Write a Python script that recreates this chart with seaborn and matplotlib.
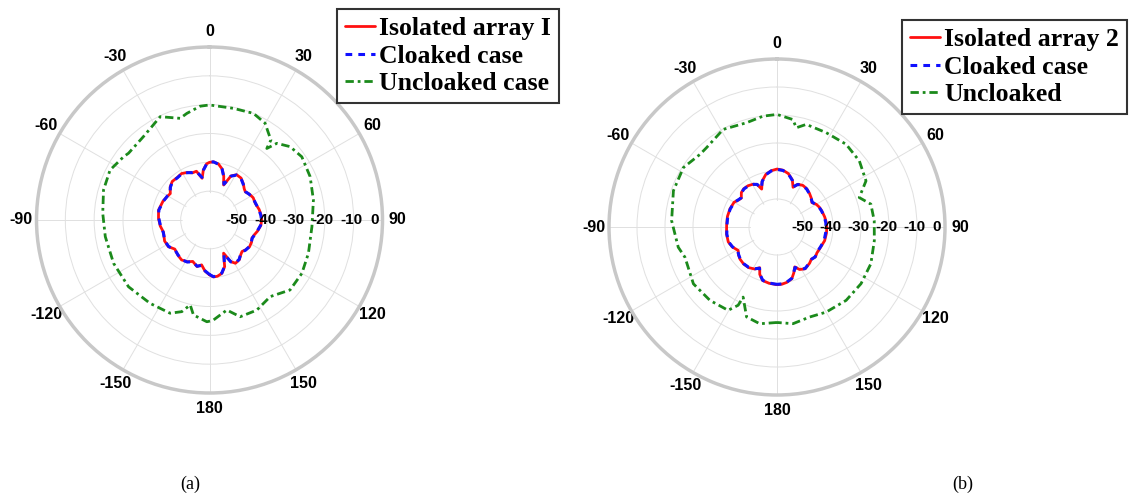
import numpy as np
import pandas as pd
import matplotlib
matplotlib.use("Agg")
import matplotlib.pyplot as plt
import seaborn as sns

# ---------------- data (angles in degrees, gain in dB) ----------------
THETA_TICKS = [0, 30, 60, 90, 120, 150, 180, 210, 240, 270, 300, 330]
THETA_LABELS = ["0", "30", "60", "90", "120", "150", "180",
                "-150", "-120", "-90", "-60", "-30"]
R_TICKS = [-50, -40, -30, -20, -10, 0]
R_LABELS = ["-50", "-40", "-30", "-20", "-10", "0"]

# (a) isolated array I
ang_a_iso = [-180, -175, -170, -165, -158, -152, -145, -138, -130, -123, -115, -105,
             -97, -88, -79, -68, -60, -56, -50, -44, -37, -31, -25, -20, -15, -10,
             -7, -3, 0, 4, 9, 14, 18, 22, 26, 31, 37, 43, 48, 52, 57, 63, 70, 78,
             85, 90, 96, 103, 108, 113, 118, 124, 130, 134, 138, 143, 149, 153,
             157, 162, 167, 172, 176, 180]
db_a_iso = [-41.0, -42.2, -44.2, -43.3, -44.5, -43.6, -43.1, -43.6, -44.3, -43.0,
            -42.8, -43.5, -42.8, -42.3, -42.0, -42.6, -43.3, -43.6, -42.2, -41.4,
            -41.5, -41.2, -41.8, -42.6, -42.5, -45.3, -42.5, -40.5, -40.0, -39.8,
            -40.3, -41.8, -44.0, -46.9, -43.0, -41.7, -41.8, -42.8, -43.8, -44.2,
            -43.5, -43.0, -43.1, -42.4, -42.0, -41.9, -42.1, -42.9, -43.6, -44.0,
            -43.5, -43.3, -43.8, -44.3, -43.8, -42.8, -42.5, -43.8, -47.5, -43.0,
            -41.0, -40.3, -40.2, -41.0]
# (a) cloaked case
ang_a_clk = ang_a_iso
db_a_clk = [-41.1, -42.3, -44.0, -43.4, -44.4, -43.5, -43.2, -43.7, -44.2, -43.1,
            -42.9, -43.4, -42.9, -42.4, -42.1, -42.7, -43.2, -43.5, -42.3, -41.5,
            -41.6, -41.3, -41.9, -42.5, -42.6, -45.0, -42.6, -40.6, -39.9, -39.8,
            -40.4, -41.9, -44.1, -46.6, -43.1, -41.8, -41.9, -42.9, -43.7, -44.1,
            -43.6, -43.1, -43.0, -42.5, -42.1, -42.0, -42.2, -43.0, -43.5, -43.9,
            -43.6, -43.4, -43.7, -44.2, -43.9, -42.9, -42.6, -43.7, -47.2, -43.1,
            -41.1, -40.4, -40.3, -41.1]
# (a) uncloaked case
ang_a_unc = [-180, -178.5, -170.4, -167.2, -163.2, -157.1, -144.5, -129.5, -114.3,
             -99.1, -86.4, -74.2, -63.3, -53.6, -50.5, -38.4, -25.5, -16.1, -12,
             -4.7, 0, 12.1, 22.4, 29.9, 34.2, 37.5, 38.7, 41.3, 47.7, 55.6, 66.7,
             79.1, 93.7, 108.6, 120, 131, 141.6, 152.3, 162.4, 169.1, 177.7, 180]
db_a_unc = [-24.9, -24.7, -26.6, -29.8, -26.8, -24.9, -24.5, -23.6, -23.5, -23.4,
            -22.9, -21.8, -21.4, -23.0, -23.6, -23.1, -20.3, -23.3, -22.2, -20.4,
            -20.1, -20.4, -20.0, -21.3, -23.6, -25.0, -28.2, -24.6, -22.2, -21.2,
            -22.0, -23.3, -24.4, -23.8, -23.0, -23.0, -26.1, -24.7, -24.8, -28.2,
            -25.3, -24.9]

# (b) isolated array 2
ang_b_iso = [-180, -172, -165, -160, -157, -152, -145, -138, -131, -126, -121, -114,
             -107, -98, -88, -78, -69, -60, -55, -51, -46, -41, -35, -29, -25, -22,
             -18, -12, -6, 0, 6, 12, 18, 22, 26, 32, 38, 44, 50, 55, 60, 65, 70, 78,
             85, 90, 97, 106, 114, 123, 128, 133, 138, 146, 152, 156, 160, 164, 170,
             175, 180]
db_b_iso = [-39.4, -39.7, -40.2, -42.0, -44.2, -43.0, -42.3, -42.2, -42.5, -43.0,
            -43.8, -42.5, -41.8, -41.8, -42.0, -41.9, -42.0, -42.3, -43.2, -43.6,
            -42.3, -41.9, -42.0, -42.5, -43.3, -45.4, -42.8, -40.8, -39.8, -39.3,
            -39.6, -40.5, -42.3, -44.7, -43.0, -42.5, -42.7, -43.3, -44.0, -44.8,
            -43.8, -43.3, -43.0, -42.6, -42.3, -42.2, -42.2, -42.3, -42.8, -43.0,
            -42.6, -43.2, -42.6, -42.0, -42.8, -44.4, -42.5, -40.8, -39.9, -39.5,
            -39.4]
# (b) cloaked case
ang_b_clk = ang_b_iso
db_b_clk = [-39.5, -39.8, -40.3, -42.1, -44.0, -43.1, -42.4, -42.3, -42.6, -43.1,
            -43.6, -42.6, -41.9, -41.9, -42.1, -42.0, -42.1, -42.4, -43.1, -43.5,
            -42.4, -42.0, -42.1, -42.6, -43.2, -45.1, -42.9, -40.9, -39.9, -39.4,
            -39.7, -40.6, -42.4, -44.5, -43.1, -42.6, -42.8, -43.4, -44.1, -44.6,
            -43.9, -43.4, -43.1, -42.7, -42.5, -42.5, -42.5, -42.5, -42.9, -43.1,
            -42.7, -43.1, -42.7, -42.1, -42.9, -44.2, -42.6, -40.9, -40.0, -39.6,
            -39.5]
# (b) uncloaked
ang_b_unc = [-180, -169.9, -161.3, -154.2, -153.6, -149.6, -137.6, -124.2, -108.2,
             -101.6, -86.6, -70.7, -57.6, -46.6, -41.6, -28.9, -16.3, -7.2, 0, 8.4,
             11, 15.9, 27.5, 39.9, 51.3, 62.6, 70.3, 76.3, 86.3, 98, 111.4, 124,
             136.7, 150, 160.1, 170.6, 180]
db_b_unc = [-25.9, -24.9, -26.1, -32.2, -28.8, -25.5, -24.5, -23.9, -25.4, -24.0,
            -22.3, -20.8, -20.4, -22.2, -22.1, -20.2, -21.2, -20.1, -19.8, -21.2,
            -23.9, -21.9, -22.0, -21.5, -22.3, -24.2, -28.8, -25.5, -25.2, -24.9,
            -24.0, -23.8, -24.0, -24.9, -25.8, -25.0, -25.9]

LEGEND_A = ["Isolated array I", "Cloaked case", "Uncloaked case"]
LEGEND_B = ["Isolated array 2", "Cloaked case", "Uncloaked"]
CAPTIONS = ["(a)", "(b)"]

# ---------------- styling ----------------
sns.set_theme(style="white")
plt.rcParams["font.family"] = ["Liberation Sans", "DejaVu Sans"]
plt.rcParams["text.color"] = "black"
plt.rcParams["xtick.color"] = "black"
plt.rcParams["ytick.color"] = "black"

RED, BLUE, GREEN = "#ff1010", "#1010ff", "#1b8a1b"

fig = plt.figure(figsize=(11.3, 4.97), dpi=100)
ax_a = fig.add_axes([36.5 / 1130, 1 - 393 / 497, 346 / 1130, 346 / 497], projection="polar")
ax_b = fig.add_axes([609 / 1130, 1 - 395 / 497, 336 / 1130, 336 / 497], projection="polar")


def draw(ax, series, labels, leg_xy):
    styles = [
        dict(color=RED, linestyle="-", lw=2.0, zorder=3),
        dict(color=BLUE, linestyle=(0, (2.2, 2.0)), lw=2.2, zorder=4),
        dict(color=GREEN, linestyle=(0, (3.0, 1.4, 1.0, 1.4)), lw=2.0, zorder=3),
    ]
    for (ang, db), lab, st in zip(series, labels, styles):
        df = pd.DataFrame({"theta": np.deg2rad(ang), "dB": db})
        sns.lineplot(data=df, x="theta", y="dB", ax=ax, sort=False, estimator=None,
                     label=lab, **st)
    ax.set_theta_zero_location("N")
    ax.set_theta_direction(-1)
    ax.set_ylim(-60, 0)
    ax.set_yticks(R_TICKS)
    ax.set_yticklabels([])
    # radial labels along the 90 degree direction
    for r, lab in zip(R_TICKS, R_LABELS):
        dx = -6 if r == 0 else -1.5
        ax.annotate(lab, xy=(np.pi / 2, r), xytext=(dx, 0), textcoords="offset points",
                    ha="center", va="center", fontsize=11, fontweight="bold",
                    color="black", zorder=6, annotation_clip=False)
    ax.set_thetagrids(THETA_TICKS, THETA_LABELS)
    for t in ax.get_xticklabels():
        t.set_fontsize(11.5)
        t.set_fontweight("bold")
        t.set_color("black")
    ax.tick_params(axis="x", pad=-2)
    ax.set_xlabel("")
    ax.set_ylabel("")
    ax.grid(True, color="#e0e0e0", lw=0.7)
    ax.set_axisbelow(True)
    # blank inner disc (spokes start at the innermost ring)
    tt = np.linspace(0, 2 * np.pi, 361)
    ax.fill_between(tt, -60, -50.5, color="white", lw=0, zorder=1)
    ax.spines["polar"].set_color("#c8c8c8")
    ax.spines["polar"].set_linewidth(2.5)
    ax.set_facecolor("white")
    handles, labs = ax.get_legend_handles_labels()
    leg = ax.legend(handles, labs, loc="upper left", bbox_to_anchor=leg_xy,
                    bbox_transform=fig.transFigure, borderaxespad=0,
                    prop=dict(family=["Liberation Serif", "DejaVu Serif"], weight="bold", size=18.5),
                    handlelength=1.15, handletextpad=0.15, labelspacing=0.16,
                    borderpad=0.33, fancybox=False, framealpha=1, edgecolor="#333333")
    leg.get_frame().set_linewidth(1.5)
    leg.set_zorder(10)
    for t in leg.get_texts():
        t.set_color("black")


draw(ax_a, [(ang_a_iso, db_a_iso), (ang_a_clk, db_a_clk), (ang_a_unc, db_a_unc)],
     LEGEND_A, (337 / 1130, 1 - 9 / 497))
draw(ax_b, [(ang_b_iso, db_b_iso), (ang_b_clk, db_b_clk), (ang_b_unc, db_b_unc)],
     LEGEND_B, (902 / 1130, 1 - 20 / 497))

fig.text(190 / 1130, 1 - 484 / 497, CAPTIONS[0], ha="center", va="center",
         family=["Liberation Serif", "DejaVu Serif"], fontsize=13)
fig.text(963 / 1130, 1 - 484 / 497, CAPTIONS[1], ha="center", va="center",
         family=["Liberation Serif", "DejaVu Serif"], fontsize=13)

fig.savefig("out.png", dpi=100, facecolor="white")
